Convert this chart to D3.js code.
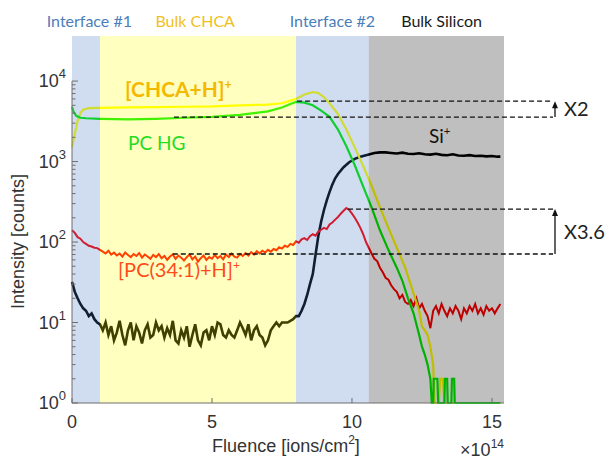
<!DOCTYPE html>
<html>
<head>
<meta charset="utf-8">
<script src="https://cdn.jsdelivr.net/npm/d3@7"></script>
<style>
  body { margin: 0; background: #fff; }
  text { font-family: "Liberation Sans", Arial, sans-serif; }
  .lbl { font-family: Lato, "Open Sans", sans-serif; }
</style>
</head>
<body>
<div id="chart"></div>
<script>
const width = 609, height = 463;
const margin = {top: 36, right: 105, bottom: 60, left: 72};

// regions across the depth profile (fluence, x1e14 ions/cm2)
const regionNames = ["Interface #1", "Bulk CHCA", "Interface #2", "Bulk Silicon"];
const regionEdges = [0, 1, 8, 10.6, 15.43];
const regionLabelX = [0.62, 4.4, 9.3, 13.2];

const xTicks = [0, 5, 10, 15];
const yTicks = [1, 10, 100, 1000, 10000];

// [fluence, counts]
const chcaPoints = [[0,1500],[0.1,2200],[0.2,3200],[0.3,4000],[0.4,4400],[0.6,4600],[1,4650],[2,4700],
  [3,4750],[4,4800],[5,4850],[6,5000],[7,5100],[7.5,5300],[8,6000],[8.3,6800],[8.6,7300],[8.8,7100],
  [9,6300],[9.2,5300],[9.5,3900],[9.8,2500],[10.1,1500],[10.4,880],[10.7,500],[11,270],[11.3,150],
  [11.6,85],[11.9,48],[12.2,23],[12.4,14],[12.5,9],[12.6,8],[12.7,7],[12.8,5],[12.9,3],[12.95,1],
  [13.1,1],[13.15,2],[13.25,2],[13.3,1],[15.3,1]];

const pchgPoints = [[0,4800],[0.05,4200],[0.15,3700],[0.3,3500],[0.5,3450],[1,3400],[2,3350],[3,3400],
  [4,3500],[5,3600],[6,3800],[7,4200],[7.5,4700],[7.8,5200],[8,5500],[8.3,5400],[8.6,5000],[8.9,4300],
  [9.2,3600],[9.5,2500],[9.8,1550],[10.1,900],[10.4,490],[10.7,270],[11,140],[11.3,80],[11.6,48],
  [11.8,33],[12,20],[12.2,13],[12.4,7],[12.5,5],[12.6,4],[12.7,3],[12.8,2],[12.85,1],[12.9,1],
  [12.92,2],[13.05,2],[13.08,1],[13.3,1],[13.32,2],[13.4,2],[13.42,1],[13.55,1],[13.57,2],[13.65,2],
  [13.67,1],[15.3,1]];

const pcPoints = [[0,140],[0.1,130],[0.2,115],[0.3,110],[0.4,100],[0.5,95],[0.6,90],[0.7,88],[0.8,85],[0.9,84],
  [1.0,80],[1.1,76],[1.2,72],[1.3,78],[1.4,70],[1.5,74],[1.6,68],[1.7,72],[1.8,66],[1.9,74],
  [2.0,69],[2.1,65],[2.2,71],[2.3,67],[2.4,73],[2.5,64],[2.6,70],[2.7,66],[2.8,62],[2.9,69],
  [3.0,65],[3.1,71],[3.2,63],[3.3,67],[3.4,60],[3.5,66],[3.6,70],[3.7,62],[3.8,68],[3.9,64],
  [4.0,59],[4.1,65],[4.2,70],[4.3,61],[4.4,66],[4.5,57],[4.6,63],[4.7,68],[4.8,60],[4.9,65],
  [5.0,62],[5.1,69],[5.2,63],[5.3,67],[5.4,61],[5.5,70],[5.6,65],[5.7,72],[5.8,66],[5.9,64],
  [6.0,71],[6.1,67],[6.2,73],[6.3,68],[6.4,75],[6.5,70],[6.6,77],[6.7,72],[6.8,78],[6.9,74],
  [7.0,80],[7.1,76],[7.2,82],[7.3,79],[7.4,86],[7.5,83],[7.6,90],[7.7,87],[7.8,95],[7.9,92],
  [8.0,102],[8.1,98],[8.2,108],[8.3,112],[8.4,106],[8.5,118],[8.6,125],[8.7,120],[8.8,135],[8.9,142],
  [9.0,150],[9.1,145],[9.2,165],[9.3,175],[9.4,190],[9.5,205],[9.6,225],[9.7,245],[9.8,265],[9.9,250],
  [10.0,225],[10.1,200],[10.2,175],[10.3,150],[10.4,125],[10.5,100],[10.6,85],[10.7,72],[10.8,62],[10.9,58],
  [11.0,48],[11.1,42],[11.2,36],[11.3,34],[11.4,29],[11.5,26],[11.6,24],[11.7,20],[11.8,22],[11.9,18],
  [12.0,17],[12.1,19],[12.2,16],[12.3,20],[12.4,15],[12.5,17],[12.6,14],[12.7,12],[12.8,8.5],[12.9,14],
  [13.0,16],[13.1,13],[13.2,17],[13.3,14],[13.4,12],[13.5,15],[13.6,13],[13.7,16],[13.8,14],[13.9,11],
  [14.0,15],[14.1,13],[14.2,16],[14.3,14],[14.4,17],[14.5,13],[14.6,15],[14.7,12.5],[14.8,16],[14.9,14],
  [15.0,15],[15.1,13],[15.2,15],[15.3,17]];

const siPoints = [[0,32],[0.1,24],[0.2,20],[0.3,17],[0.4,15],[0.5,14],[0.6,12],[0.7,13],[0.8,11],[0.9,10],
  [1.0,9.5],[1.1,8],[1.2,10],[1.3,7],[1.4,9],[1.5,6],[1.6,7.5],[1.7,10.5],[1.8,7],[1.9,5.2],
  [2.0,8],[2.1,10],[2.2,6],[2.3,9],[2.4,7.5],[2.5,5.5],[2.6,8],[2.7,9.5],[2.8,6.5],[2.9,7],
  [3.0,10],[3.1,8],[3.2,9],[3.3,6.5],[3.4,8.5],[3.5,7],[3.6,10.5],[3.7,6],[3.8,5.5],[3.9,8],
  [4.0,6.5],[4.1,9],[4.2,5],[4.3,7],[4.4,9.5],[4.5,6],[4.6,5.2],[4.7,7.5],[4.8,8],[4.9,6],
  [5.0,9],[5.1,7],[5.2,10],[5.3,9.5],[5.4,7],[5.5,6.5],[5.6,8],[5.7,7],[5.8,6.5],[5.9,8],
  [6.0,10],[6.1,8.5],[6.2,7],[6.3,9.5],[6.4,6],[6.5,8],[6.6,9],[6.7,7],[6.8,6.5],[6.9,5.2],
  [7.0,6],[7.1,8],[7.2,9],[7.3,10],[7.4,9],[7.5,10],[7.7,10],[7.9,11],[8.0,12],[8.1,12],
  [8.2,14],[8.3,17],[8.4,22],[8.5,30],[8.6,40],[8.7,70],[8.8,120],[8.9,180],[9.0,250],[9.1,330],
  [9.2,420],[9.3,520],[9.4,620],[9.5,700],[9.7,850],[9.9,980],[10.1,1080],[10.3,1150],[10.5,1200],
  [10.8,1280],[11.0,1300],[11.2,1300],[11.4,1280],[11.6,1260],[11.8,1290],[12.0,1250],[12.2,1240],
  [12.4,1270],[12.6,1230],[12.8,1220],[13.0,1250],[13.2,1210],[13.4,1200],[13.6,1230],[13.8,1190],
  [14.0,1180],[14.2,1200],[14.4,1170],[14.6,1180],[14.8,1160],[15.0,1170],[15.2,1150],[15.3,1150]];

// ratio annotations: lower / upper counts and where the dashes start
const ratioLabels = ["X2", "X3.6"];
const ratioLow = [3570, 71];
const ratioHigh = [5630, 257];
const ratioLowStart = [3.64, 3.6];
const ratioHighStart = [8.04, 9.86];

const svg = d3.select("#chart").append("svg")
  .attr("width", width).attr("height", height);

const x = d3.scaleLinear().domain([0, 15.43])
  .range([margin.left, width - margin.right]);
const y = d3.scaleLog().domain([1, Math.pow(10, 4.56)])
  .range([height - margin.bottom, margin.top]);

const line = d3.line().x(d => x(d[0])).y(d => y(d[1]));

// curves
svg.append("path").datum(siPoints).attr("d", line)
  .attr("fill", "none").attr("stroke", "#000").attr("stroke-width", 2.6);
svg.append("path").datum(pcPoints).attr("d", line)
  .attr("fill", "none").attr("stroke", "#ff0000").attr("stroke-width", 2);
svg.append("path").datum(chcaPoints).attr("d", line)
  .attr("fill", "none").attr("stroke", "#ffff00").attr("stroke-width", 2.2);
svg.append("path").datum(pchgPoints).attr("d", line)
  .attr("fill", "none").attr("stroke", "#00ee00").attr("stroke-width", 2.2);

// translucent region bands laid over the traces
const bandColors = ["#4472c4", "#ffff00", "#4472c4", "#000000"];
svg.selectAll(".band").data(regionNames).enter().append("rect")
  .attr("class", "band")
  .attr("x", (d, i) => x(regionEdges[i]))
  .attr("width", (d, i) => x(regionEdges[i + 1]) - x(regionEdges[i]))
  .attr("y", margin.top)
  .attr("height", height - margin.bottom - margin.top)
  .attr("fill", (d, i) => bandColors[i])
  .attr("fill-opacity", 0.25);

// axes
const axisColor = "#6e6e6e";
const x0 = x.range()[0], yb = y.range()[0];
svg.append("line").attr("x1", x0).attr("x2", x.range()[1]).attr("y1", yb).attr("y2", yb)
  .attr("stroke", axisColor);
svg.append("line").attr("x1", x0).attr("x2", x0).attr("y1", yb).attr("y2", y(10000))
  .attr("stroke", axisColor);

svg.selectAll(".xt").data(xTicks).enter().append("line")
  .attr("x1", d => x(d)).attr("x2", d => x(d)).attr("y1", yb).attr("y2", yb - 5)
  .attr("stroke", axisColor);
svg.selectAll(".xl").data(xTicks).enter().append("text")
  .attr("x", d => x(d)).attr("y", yb + 25)
  .attr("text-anchor", "middle").attr("font-size", 18).attr("fill", "#333")
  .text(d => d);

const minor = [];
for (let k = 0; k < 4; k++) for (let m = 2; m <= 9; m++) minor.push(m * Math.pow(10, k));
svg.selectAll(".ym").data(minor).enter().append("line")
  .attr("x1", x0).attr("x2", x0 + 3.5).attr("y1", d => y(d)).attr("y2", d => y(d))
  .attr("stroke", axisColor);
svg.selectAll(".yt").data(yTicks).enter().append("line")
  .attr("x1", x0).attr("x2", x0 + 6).attr("y1", d => y(d)).attr("y2", d => y(d))
  .attr("stroke", axisColor);
const yl = svg.selectAll(".yl").data(yTicks).enter().append("text")
  .attr("x", x0 - 6).attr("y", d => y(d) + 6)
  .attr("text-anchor", "end").attr("font-size", 18).attr("fill", "#333");
yl.append("tspan").text("10");
yl.append("tspan").attr("dy", -9).attr("font-size", 13).text(d => Math.round(Math.log10(d)));

svg.append("text")
  .attr("transform", `translate(24,${(margin.top + yb) / 2 + 22}) rotate(-90)`)
  .attr("text-anchor", "middle").attr("font-size", 18).attr("fill", "#333")
  .text("Intensity [counts]");

const fl = svg.append("text").attr("x", 286).attr("y", 452)
  .attr("text-anchor", "middle").attr("font-size", 18).attr("fill", "#333");
fl.append("tspan").text("Fluence [ions/cm");
fl.append("tspan").attr("dy", -8).attr("font-size", 12).text("2");
fl.append("tspan").attr("dy", 8).text("]");

const ex = svg.append("text").attr("x", x.range()[1]).attr("y", 456)
  .attr("text-anchor", "end").attr("font-size", 18).attr("fill", "#333");
ex.append("tspan").text("\u00d710");
ex.append("tspan").attr("dy", -8).attr("font-size", 12).text("14");

// region titles
const titleColors = ["#4a7ebb", "#f0c020", "#4a7ebb", "#1a1a1a"];
svg.selectAll(".rt").data(regionNames).enter().append("text")
  .attr("class", "lbl")
  .attr("x", (d, i) => x(regionLabelX[i])).attr("y", 27)
  .attr("text-anchor", "middle").attr("font-size", 16)
  .attr("fill", (d, i) => titleColors[i])
  .text(d => d);

// trace labels
function ionLabel(txt, sup, px, py, color, size, bold) {
  const t = svg.append("text").attr("class", "lbl").attr("x", px).attr("y", py)
    .attr("font-size", size).attr("fill", color)
    .attr("font-weight", bold ? "bold" : "normal");
  t.append("tspan").text(txt);
  if (sup) t.append("tspan").attr("dy", -8).attr("font-size", size * 0.6).text(sup);
}
ionLabel("[CHCA+H]", "+", 125, 97, "#f5b800", 21, true);
ionLabel("PC HG", "", 128, 150, "#22dd22", 19, false);
ionLabel("[PC(34:1)+H]", "+", 118, 277, "#ff4a1a", 20, false);
ionLabel("Si", "+", 429, 143, "#111", 19, false);

// ratio brackets
const dashEnd = x.range()[1] + 49;
ratioLabels.forEach((lab, i) => {
  const yl0 = y(ratioLow[i]), yh = y(ratioHigh[i]);
  svg.append("line").attr("x1", x(ratioLowStart[i])).attr("x2", dashEnd)
    .attr("y1", yl0).attr("y2", yl0)
    .attr("stroke", "#111").attr("stroke-width", 1.3).attr("stroke-dasharray", "5,3");
  svg.append("line").attr("x1", x(ratioHighStart[i])).attr("x2", dashEnd)
    .attr("y1", yh).attr("y2", yh)
    .attr("stroke", "#111").attr("stroke-width", 1.3).attr("stroke-dasharray", "5,3");
  const ax = dashEnd + 2;
  svg.append("line").attr("x1", ax).attr("x2", ax).attr("y1", yl0).attr("y2", yh + 6)
    .attr("stroke", "#111").attr("stroke-width", 1.3);
  svg.append("path").attr("d", `M${ax - 3},${yh + 7}L${ax},${yh}L${ax + 3},${yh + 7}Z`)
    .attr("fill", "#111");
  svg.append("text").attr("class", "lbl")
    .attr("x", ax + 9).attr("y", (yl0 + yh) / 2 + 7)
    .attr("font-size", 20).attr("fill", "#222").text(lab);
});
</script>
</body>
</html>
